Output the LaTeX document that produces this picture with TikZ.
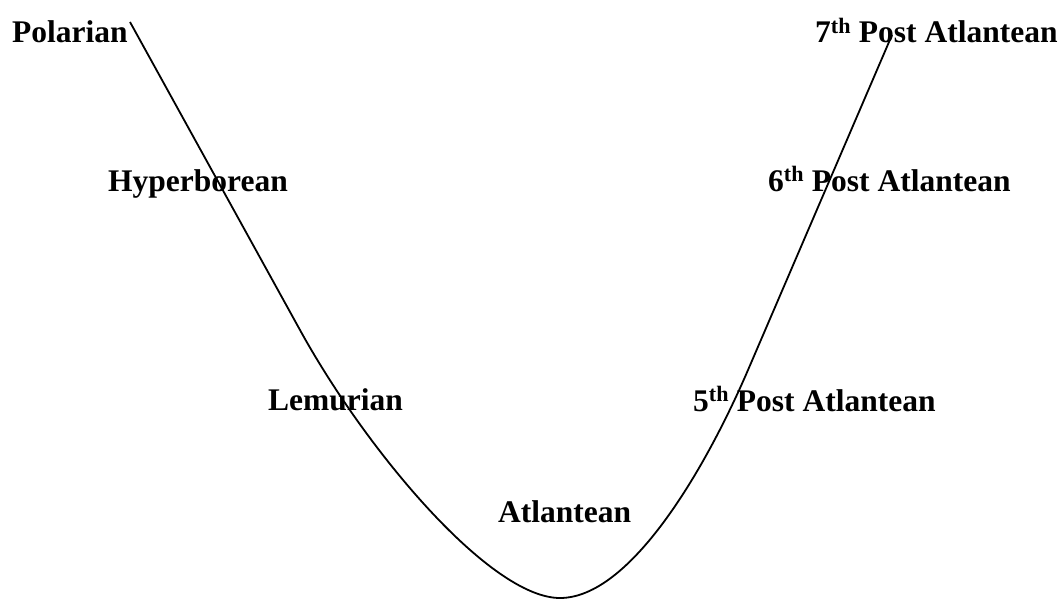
\documentclass[tikz,border=0pt]{standalone}
\usepackage{fontspec}
\setmainfont{Liberation Serif}
\usetikzlibrary{positioning}
\tikzset{
  eralabel/.style={anchor=base west,inner sep=0pt,
    font=\fontsize{31.5}{38}\selectfont\bfseries},
  epochcurve/.style={draw=black,line width=1.8pt},
}

\begin{document}
\begin{tikzpicture}[x=1pt,y=-1pt]
\useasboundingbox (0,0) rectangle (1064,607);
% the cycle of epochs: down on the left, up on the right
\draw[epochcurve] (130,22) -- (300,330)
  .. controls (366,450) and (490,598) .. (560,598)
  .. controls (630,598) and (705,470) .. (748,370) -- (892,35);
\node[eralabel] (polarian) at (12,43) {Polarian};
\node[eralabel] (hyperborean) at (108,191) {Hyperborean};
\node[eralabel] (lemurian) at (268,410) {Lemurian};
\node[eralabel] (atlantean) at (498,522) {Atlantean};
\node[eralabel] (fifth) at (693,411) {5\textsuperscript{th} Post Atlantean};
\node[eralabel] (sixth) at (768,191) {6\textsuperscript{th} Post Atlantean};
\node[eralabel] (seventh) at (815,43) {7\textsuperscript{th} Post Atlantean};
\end{tikzpicture}
\end{document}
